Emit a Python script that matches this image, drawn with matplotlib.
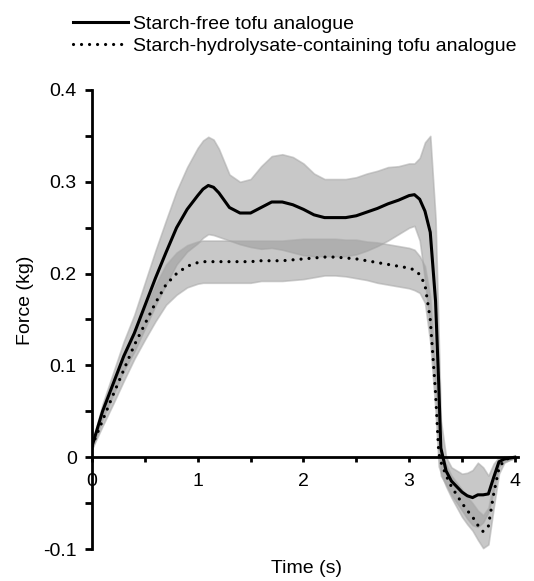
import matplotlib.pyplot as plt
from matplotlib.ticker import MultipleLocator
import numpy as np

plt.rcParams["font.family"] = ["Liberation Sans", "DejaVu Sans"]

# time samples (s)
time_s = [0, 0.1, 0.2, 0.3, 0.4, 0.5, 0.6, 0.7, 0.8, 0.9, 1.0, 1.05, 1.1, 1.15, 1.2,
          1.3, 1.4, 1.5, 1.6, 1.7, 1.8, 1.9, 2.0, 2.1, 2.2, 2.3, 2.4, 2.5, 2.6, 2.7,
          2.8, 2.9, 3.0, 3.05, 3.1, 3.15, 3.2, 3.25, 3.28, 3.3, 3.35, 3.4, 3.5, 3.55,
          3.6, 3.65, 3.7, 3.75, 3.8, 3.85, 3.9, 3.95, 4.0]

# starch-free tofu analogue: mean force and SD (kg)
free_mean = [0.012, 0.05, 0.08, 0.11, 0.135, 0.165, 0.195, 0.223, 0.25, 0.27,
             0.285, 0.292, 0.296, 0.294, 0.288, 0.272, 0.266, 0.266, 0.272, 0.278,
             0.278, 0.275, 0.27, 0.264, 0.261, 0.261, 0.261, 0.263, 0.267, 0.271,
             0.276, 0.28, 0.285, 0.286, 0.281, 0.268, 0.245, 0.17, 0.08, 0.01,
             -0.015, -0.026, -0.038, -0.042, -0.044, -0.041, -0.041, -0.04, -0.022,
             -0.005, -0.002, -0.001, 0.0]
free_sd = [0.003, 0.008, 0.012, 0.016, 0.02, 0.025, 0.03, 0.035, 0.04, 0.046,
           0.052, 0.053, 0.053, 0.052, 0.048, 0.036, 0.034, 0.037, 0.045, 0.05,
           0.052, 0.052, 0.05, 0.045, 0.042, 0.042, 0.042, 0.042, 0.042, 0.041,
           0.04, 0.037, 0.035, 0.034, 0.045, 0.075, 0.105, 0.09, 0.05, 0.03,
           0.015, 0.015, 0.02, 0.025, 0.03, 0.035, 0.03, 0.02, 0.015, 0.005,
           0.003, 0.002, 0.001]

# starch-hydrolysate-containing tofu analogue
hydro_mean = [0.012, 0.04, 0.068, 0.095, 0.122, 0.145, 0.168, 0.188, 0.2, 0.208,
              0.212, 0.213, 0.213, 0.213, 0.213, 0.213, 0.213, 0.213, 0.214, 0.214,
              0.214, 0.215, 0.216, 0.217, 0.218, 0.218, 0.217, 0.216, 0.214, 0.212,
              0.21, 0.208, 0.206, 0.204, 0.199, 0.188, 0.15, 0.07, 0.005, -0.005,
              -0.02, -0.032, -0.05, -0.058, -0.065, -0.074, -0.081, -0.075, -0.04,
              -0.012, -0.003, -0.001, 0.0]
hydro_sd = [0.003, 0.006, 0.01, 0.012, 0.015, 0.017, 0.02, 0.022, 0.023, 0.023,
            0.023, 0.023, 0.023, 0.023, 0.023, 0.023, 0.023, 0.023, 0.022, 0.022,
            0.022, 0.022, 0.022, 0.021, 0.02, 0.02, 0.02, 0.021, 0.021, 0.022,
            0.022, 0.022, 0.022, 0.022, 0.02, 0.02, 0.025, 0.02, 0.015, 0.012,
            0.012, 0.012, 0.015, 0.015, 0.015, 0.016, 0.018, 0.02, 0.015, 0.006,
            0.003, 0.002, 0.001]

labels = ["Starch-free tofu analogue",
          "Starch-hydrolysate-containing tofu analogue"]

t = np.array(time_s)
fig = plt.figure(figsize=(5.34, 5.81), dpi=100)
ax = fig.add_axes([92 / 534, 1 - 549 / 581, 426 / 534, 459 / 581])

band_kw = dict(color="#9c9c9c", alpha=0.55, linewidth=1.2, edgecolor="#a8a8a8")
for m, s in [(free_mean, free_sd), (hydro_mean, hydro_sd)]:
    m = np.array(m)
    s = np.array(s)
    ax.fill_between(t, m - s, m + s, zorder=1, **band_kw)

ax.plot(t, free_mean, color="black", lw=2.2, zorder=3, label=labels[0])
ax.plot(t, hydro_mean, color="black", lw=2.3, linestyle=(0, (0.01, 2.5)),
        dash_capstyle="round", zorder=3, label=labels[1])

ax.set_xlim(0, 4.03)
ax.set_ylim(-0.1, 0.4)
for side in ["top", "right"]:
    ax.spines[side].set_visible(False)
ax.spines["bottom"].set_position(("data", 0))
ax.spines["bottom"].set_bounds(0, 4.03)
for side in ["left", "bottom"]:
    ax.spines[side].set_linewidth(2)

ax.xaxis.set_major_locator(MultipleLocator(1))
ax.xaxis.set_minor_locator(MultipleLocator(0.5))
ax.yaxis.set_major_locator(MultipleLocator(0.1))
ax.yaxis.set_minor_locator(MultipleLocator(0.05))
ax.set_yticks([-0.1, 0, 0.1, 0.2, 0.3, 0.4])
ax.set_yticklabels(["-0.1", "0", "0.1", "0.2", "0.3", "0.4"])
ax.tick_params(axis="both", which="both", direction="out", width=2, labelsize=14)
ax.tick_params(axis="y", which="both", length=5, pad=6)
ax.tick_params(axis="x", which="both", length=3.5, pad=8)

ax.set_xlabel("Time (s)", fontsize=14)
ax.xaxis.set_label_coords(0.504, -0.024)
ax.set_ylabel("Force (kg)", fontsize=14)
ax.yaxis.set_label_coords(-0.135, 0.542)

fig.legend(loc="upper left", bbox_to_anchor=(0.137, 0.974), frameon=False,
           fontsize=14, handlelength=2.8, handletextpad=0.3, borderpad=0,
           borderaxespad=0, labelspacing=0.25)

fig.savefig("out.png", dpi=100)
